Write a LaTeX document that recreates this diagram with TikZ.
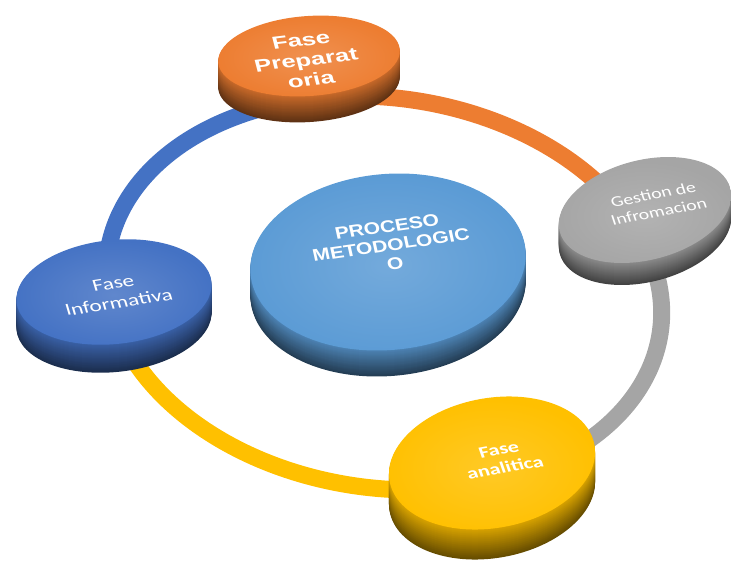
\documentclass[tikz,border=0pt]{standalone}
\usepackage{fontspec}
\setmainfont{Liberation Sans}
\newfontfamily\calibri{Carlito}
\definecolor{naranja}{HTML}{ED7D31}
\definecolor{gris}{HTML}{A5A5A5}
\definecolor{azul}{HTML}{4472C4}
\definecolor{celeste}{HTML}{5B9BD5}
\definecolor{amarillo}{HTML}{FFC000}
\tikzset{
	anillo/.style={line width=14.5pt},
	rotulo/.style={text=white, align=center, inner sep=0pt, transform shape},
}
% disco: nombre, x, y, rx, ry, alto, color, giro
\newcommand{\disco}[8]{%
	\foreach \k in {#6,...,1}{
		\pgfmathtruncatemacro\tono{85-45*\k/#6}
		\fill[#7!\tono!black, rotate around={#8:(#2,#3+\k)}] (#2,#3+\k) ellipse [x radius=#4, y radius=#5];
	}
	\shade[inner color=#7!85!white, outer color=#7, rotate around={#8:(#2,#3)}] (#2,#3) ellipse [x radius=#4, y radius=#5];
	\coordinate (#1) at (#2,#3);
}
\begin{document}
\begin{tikzpicture}[x=0.03cm,y=-0.03cm]
	\useasboundingbox (0,0) rectangle (731,565);
	% anillo
	\begin{scope}[shift={(384,293)}, rotate=-8]
		\coordinate (pinf) at (170:279 and 195);
		\coordinate (pprep) at (248:279 and 195);
		\coordinate (pgest) at (332:279 and 195);
		\coordinate (pana) at (422:279 and 195);
		\draw[anillo, azul] (pinf) arc[start angle=170, end angle=248, x radius=279, y radius=195];
		\draw[anillo, naranja] (pprep) arc[start angle=248, end angle=332, x radius=279, y radius=195];
		\draw[anillo, gris] (pgest) arc[start angle=332, end angle=422, x radius=279, y radius=195];
		\draw[anillo, amarillo] (pana) arc[start angle=422, end angle=530, x radius=279, y radius=195];
	\end{scope}
	% discos
	\disco{prep}{309}{56}{91}{40}{26}{naranja}{4}
	\disco{gest}{645}{210}{88}{50}{22}{gris}{14}
	\disco{inf}{114}{292}{98}{52}{28}{azul}{6}
	\disco{ana}{492}{463}{104}{65}{30}{amarillo}{10}
	\disco{centro}{388}{262}{138}{88}{26}{celeste}{5}
	% textos
	\node[rotulo, font=\bfseries\fontsize{22}{25}\selectfont, yscale=.68, rotate=10] (prep-t) at (306,60)
		{Fase\\Preparat\\oria};
	\node[rotulo, font=\calibri\fontsize{17}{20}\selectfont, yscale=.75, rotate=14] (gest-t) at (656,203)
		{Gestion de\\Infromacion};
	\node[rotulo, font=\bfseries\fontsize{18}{20}\selectfont, yscale=.8, rotate=10] (centro-t) at (391,245)
		{PROCESO\\METODOLOGIC\\O};
	\node[rotulo, font=\calibri\fontsize{20}{23}\selectfont, yscale=.72, rotate=12] (inf-t) at (116,293)
		{Fase\\Informativa};
	\node[rotulo, font=\calibri\bfseries\fontsize{19}{22}\selectfont, yscale=.72, rotate=14] (ana-t) at (502,459)
		{Fase\\analitica};
\end{tikzpicture}
\end{document}
